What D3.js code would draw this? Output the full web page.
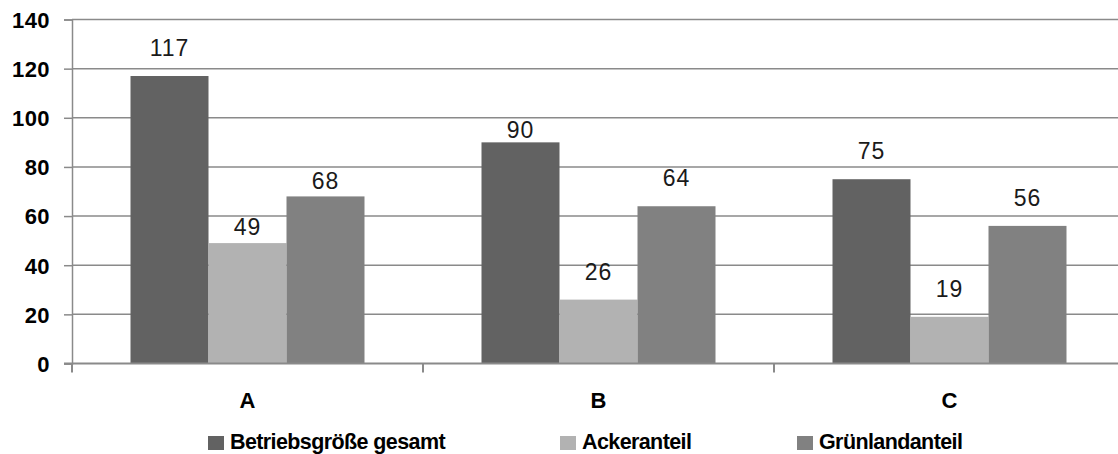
<!DOCTYPE html>
<html>
<head>
<meta charset="utf-8">
<script src="https://cdn.jsdelivr.net/npm/d3@7"></script>
<style>
  html, body { margin: 0; padding: 0; background: #fff; }
  svg { display: block; }
</style>
</head>
<body>
<svg id="chart" width="1118" height="454"></svg>
<script>
// Farm size by type (ha): total, arable share, grassland share
const categories = ["A", "B", "C"];
const seriesNames = ["Betriebsgröße gesamt", "Ackeranteil", "Grünlandanteil"];
const betriebsgroesse = [117, 90, 75];
const ackeranteil = [49, 26, 19];
const gruenlandanteil = [68, 64, 56];
const yTicks = [0, 20, 40, 60, 80, 100, 120, 140];

const seriesValues = [betriebsgroesse, ackeranteil, gruenlandanteil];
const colors = ["#626262", "#b2b2b2", "#818181"];

// some value labels sit closer to their bar top
const labelLift = { "A|1": 8, "A|2": 7, "B|0": 4 };
const defaultLift = 20;

const svg = d3.select("#chart");
const plotLeft = 72, plotRight = 1125, plotTop = 19.5, plotBottom = 363.5;

const x = d3.scaleBand().domain(categories).range([plotLeft, plotRight]).paddingInner(0).paddingOuter(0);
const bw = x.bandwidth();
const xs = d3.scaleBand().domain(d3.range(seriesNames.length)).range([bw / 6, bw * 5 / 6]).padding(0);
const y = d3.scaleLinear().domain([0, 140]).range([plotBottom, plotTop]);

const gridColor = "#8a8a8a";

// horizontal gridlines
svg.append("g").selectAll("line").data(yTicks.filter(t => t > 0)).join("line")
  .attr("x1", plotLeft).attr("x2", 1118)
  .attr("y1", d => y(d)).attr("y2", d => y(d))
  .attr("stroke", gridColor).attr("stroke-width", 1.5);

// y axis
const yAxis = d3.axisLeft(y).tickValues(yTicks).tickSize(8).tickPadding(14).tickFormat(d3.format("d"));
const gy = svg.append("g").attr("transform", `translate(${plotLeft},0)`).call(yAxis);
gy.select(".domain").attr("stroke", gridColor).attr("stroke-width", 1.5);
gy.selectAll(".tick line").attr("stroke", gridColor).attr("stroke-width", 1.5);
gy.selectAll(".tick text")
  .attr("fill", "#000")
  .style("font-family", "'Liberation Sans', Arial, sans-serif")
  .style("font-weight", "bold")
  .style("font-size", "22px")
  .style("letter-spacing", "0.4px")
  .attr("dy", "0.36em");

// bars
const groups = svg.append("g").selectAll("g").data(categories).join("g")
  .attr("transform", c => `translate(${x(c)},0)`);

groups.selectAll("rect")
  .data((c, i) => seriesValues.map((vals, s) => ({ c, s, v: vals[i] })))
  .join("rect")
  .attr("x", d => xs(d.s))
  .attr("width", xs.bandwidth())
  .attr("y", d => y(d.v))
  .attr("height", d => y(0) - y(d.v))
  .attr("fill", d => colors[d.s]);

// value labels
groups.selectAll("text.val")
  .data((c, i) => seriesValues.map((vals, s) => ({ c, s, v: vals[i] })))
  .join("text")
  .attr("class", "val")
  .attr("x", d => xs(d.s) + xs.bandwidth() / 2)
  .attr("y", d => y(d.v) - (labelLift[d.c + "|" + d.s] ?? defaultLift))
  .attr("text-anchor", "middle")
  .attr("fill", "#1a1a1a")
  .style("font-family", "'Liberation Sans', Arial, sans-serif")
  .style("font-size", "23px")
  .style("letter-spacing", "1px")
  .text(d => d.v);

// x axis baseline and category separators
const gx = svg.append("g");
gx.append("line")
  .attr("x1", plotLeft - 8).attr("x2", 1118)
  .attr("y1", y(0)).attr("y2", y(0))
  .attr("stroke", gridColor).attr("stroke-width", 2);
const bounds = categories.map(c => x(c)).concat([x(categories[categories.length - 1]) + bw]);
gx.selectAll("line.sep").data(bounds).join("line")
  .attr("class", "sep")
  .attr("x1", d => d).attr("x2", d => d)
  .attr("y1", y(0)).attr("y2", y(0) + 9)
  .attr("stroke", gridColor).attr("stroke-width", 2);
gx.selectAll("text").data(categories).join("text")
  .attr("x", c => x(c) + bw / 2)
  .attr("y", 408)
  .attr("text-anchor", "middle")
  .attr("fill", "#000")
  .style("font-family", "'Liberation Sans', Arial, sans-serif")
  .style("font-weight", "bold")
  .style("font-size", "22px")
  .text(c => c);

// legend
const legendX = [208, 560, 797];
const legend = svg.append("g").selectAll("g").data(seriesNames).join("g")
  .attr("transform", (d, i) => `translate(${legendX[i]},0)`);
legend.append("rect")
  .attr("x", 0).attr("y", 436).attr("width", 16).attr("height", 14)
  .attr("fill", (d, i) => colors[i]);
legend.append("text")
  .attr("x", 22).attr("y", 449)
  .attr("fill", "#000")
  .style("font-family", "'Liberation Sans', Arial, sans-serif")
  .style("font-weight", "bold")
  .style("font-size", "21.5px")
  .style("letter-spacing", "-0.6px")
  .text(d => d);
</script>
</body>
</html>
